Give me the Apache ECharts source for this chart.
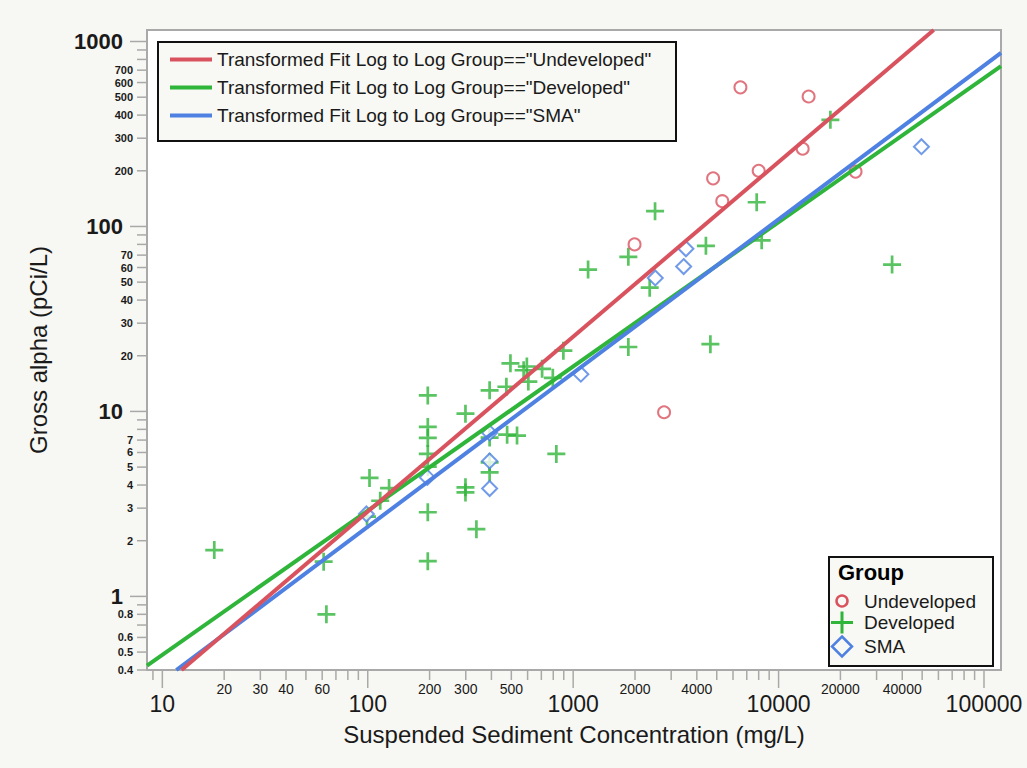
<!DOCTYPE html>
<html><head><meta charset="utf-8">
<script src="https://cdn.jsdelivr.net/npm/echarts@6/dist/echarts.min.js"></script>
<style>html,body{margin:0;padding:0;background:#fff;}#c{width:1027px;height:768px;}</style>
</head><body><div id="c"></div>
<script>
// ---------------- data ----------------
const undevelopedSSC   = [6520, 14000, 13100, 8000, 4800, 5320, 1990, 23700, 2770];
const undevelopedAlpha = [565, 504, 263, 200, 182, 137, 80, 198, 9.9];

const developedSSC   = [17.9, 61, 62.9, 99.2, 102, 115, 127, 196, 196, 196, 196, 196, 196, 196,
  299, 299, 299, 338, 392, 392, 392, 392, 473, 477, 533, 495, 595, 574, 605, 706, 796, 896, 828,
  1182, 1856, 2358, 1856, 2504, 4428, 4656, 7825, 8274, 17870, 35690];
const developedAlpha = [1.78, 1.54, 0.80, 2.70, 4.37, 3.29, 3.85, 12.2, 8.25, 7.19, 5.89, 5.03, 2.85, 1.55,
  9.73, 3.89, 3.65, 2.31, 13.0, 7.22, 5.31, 4.68, 13.6, 7.49, 7.40, 18.2, 17.5, 16.7, 14.5, 17.0, 15.2, 21.3, 5.89,
  58.5, 68.5, 46.7, 22.3, 120.9, 78.6, 23.1, 135.2, 84.2, 377, 62.2];

const smaSSC   = [49600, 3540, 3450, 2510, 1090, 392, 392, 392, 195, 98.5];
const smaAlpha = [270, 75.7, 60.7, 52.7, 15.9, 7.66, 5.4, 3.83, 4.4, 2.79];

// fitted lines (end points)
const fitUndevelopedSSC   = [12.4, 56900];
const fitUndevelopedAlpha = [0.4, 1154];
const fitDevelopedSSC     = [8.42, 121000];
const fitDevelopedAlpha   = [0.422, 737];
const fitSmaSSC           = [11.7, 121000];
const fitSmaAlpha         = [0.4, 869];

const fitNames = ['Transformed Fit Log to Log Group=="Undeveloped"',
                  'Transformed Fit Log to Log Group=="Developed"',
                  'Transformed Fit Log to Log Group=="SMA"'];
const groupNames = ['Undeveloped', 'Developed', 'SMA'];

// axes
const xRange = [8.42, 121000];
const yRange = [0.4, 1154];
const xMajorTicks = [10, 100, 1000, 10000, 100000];
const xMinorTicks = [9, 20, 30, 40, 50, 60, 70, 80, 90, 200, 300, 400, 500, 600, 700, 800, 900,
  2000, 3000, 4000, 5000, 6000, 7000, 8000, 9000, 20000, 30000, 40000, 50000, 60000, 70000, 80000, 90000];
const xMinorLabels = [20, 30, 40, 60, 200, 300, 500, 2000, 4000, 20000, 40000];
const yMajorTicks = [1, 10, 100, 1000];
const yMinorTicks = [0.4, 0.5, 0.6, 0.7, 0.8, 0.9, 2, 3, 4, 5, 6, 7, 8, 9, 20, 30, 40, 50, 60, 70, 80, 90,
  200, 300, 400, 500, 600, 700, 800, 900];
const yMinorLabels = [0.4, 0.5, 0.6, 0.8, 2, 3, 4, 5, 6, 7, 20, 30, 40, 50, 60, 70, 200, 300, 400, 500, 600, 700];

const xTitle = 'Suspended Sediment Concentration (mg/L)';
const yTitle = 'Gross alpha (pCi/L)';

// ---------------- styles ----------------
const RED = '#d9535f', GREEN = '#2fb53a', BLUE = '#4e81e2';
const FRAME = '#a9a9a9', TXT = '#1a1a1a';
const FONT = '"Liberation Sans", Arial, Helvetica, sans-serif';
const CROSS = 'path://M8.5,0H11.5V8.5H20V11.5H11.5V20H8.5V11.5H0V8.5H8.5Z';

const zip = (a, b) => a.map((v, i) => [v, b[i]]);

const xTickData = xMajorTicks.concat(xMinorTicks).map(v => [v, yRange[0]]);
const yTickData = yMajorTicks.concat(yMinorTicks).map(v => [xRange[0], v]);

function xTickRender(params, api) {
  const v = api.value(0);
  const p = api.coord([v, yRange[0]]);
  const major = xMajorTicks.indexOf(v) >= 0;
  const ch = [{type: 'line', shape: {x1: p[0], y1: p[1] + 1, x2: p[0], y2: p[1] + (major ? 18 : 10)},
               style: {stroke: FRAME, lineWidth: 1.5}}];
  if (major) {
    ch.push({type: 'text', x: p[0], y: p[1] + 34,
      style: {text: String(v), align: 'center', verticalAlign: 'middle', fill: TXT, font: '23px ' + FONT}});
  } else if (xMinorLabels.indexOf(v) >= 0) {
    ch.push({type: 'text', x: p[0], y: p[1] + 19,
      style: {text: String(v), align: 'center', verticalAlign: 'middle', fill: TXT, font: '14px ' + FONT}});
  }
  return {type: 'group', children: ch};
}
function yTickRender(params, api) {
  const v = api.value(1);
  const p = api.coord([xRange[0], v]);
  const major = yMajorTicks.indexOf(v) >= 0;
  const ch = [{type: 'line', shape: {x1: p[0] - (major ? 17 : 10), y1: p[1], x2: p[0] - 1, y2: p[1]},
               style: {stroke: FRAME, lineWidth: 1.5}}];
  if (major) {
    ch.push({type: 'text', x: p[0] - 24, y: p[1],
      style: {text: String(v), align: 'right', verticalAlign: 'middle', fill: TXT, font: 'bold 22px ' + FONT}});
  } else if (yMinorLabels.indexOf(v) >= 0) {
    ch.push({type: 'text', x: p[0] - 14, y: p[1],
      style: {text: String(v), align: 'right', verticalAlign: 'middle', fill: TXT, font: 'bold 11px ' + FONT}});
  }
  return {type: 'group', children: ch};
}

const chart = echarts.init(document.getElementById('c'), null, {renderer: 'svg'});
chart.setOption({
  animation: false,
  backgroundColor: '#f7f7f3',
  textStyle: {fontFamily: FONT},
  grid: {left: 147, right: 26, top: 30, bottom: 98, show: true, backgroundColor: '#ffffff',
         borderColor: FRAME, borderWidth: 2},
  xAxis: {type: 'log', logBase: 10, min: xRange[0], max: xRange[1],
    name: xTitle, nameLocation: 'middle', nameGap: 52,
    nameTextStyle: {fontSize: 24, color: TXT, fontFamily: FONT},
    axisLine: {show: false}, axisTick: {show: false}, axisLabel: {show: false}, splitLine: {show: false}},
  yAxis: {type: 'log', logBase: 10, min: yRange[0], max: yRange[1],
    name: yTitle, nameLocation: 'middle', nameGap: 97,
    nameTextStyle: {fontSize: 24, color: TXT, fontFamily: FONT},
    axisLine: {show: false}, axisTick: {show: false}, axisLabel: {show: false}, splitLine: {show: false}},
  legend: [{
    data: fitNames, orient: 'vertical', left: 170, top: 50, padding: 0, itemGap: 9,
    itemWidth: 42, itemHeight: 4, icon: 'rect', selectedMode: false,
    textStyle: {fontSize: 19, color: TXT, fontFamily: FONT}
  }],
  graphic: [
    {type: 'rect', left: 157, top: 41, z: 3, shape: {width: 518, height: 99},
     style: {fill: '#f8f8f4', stroke: '#111', lineWidth: 2}},
    {type: 'rect', left: 828, top: 556, z: 3, shape: {width: 164, height: 109},
     style: {fill: '#f8f8f4', stroke: '#111', lineWidth: 2}},
    {type: 'text', left: 838, top: 561, z: 4,
     style: {text: 'Group', fill: '#000', font: 'bold 22px ' + FONT}},
    {type: 'circle', z: 4, shape: {cx: 842, cy: 601, r: 5.5}, style: {fill: 'none', stroke: RED, lineWidth: 2.5}},
    {type: 'polygon', z: 4, shape: {points: [[831, 621], [853, 621], [853, 624], [831, 624]]}, style: {fill: GREEN}},
    {type: 'polygon', z: 4, shape: {points: [[840.5, 611.5], [843.5, 611.5], [843.5, 633.5], [840.5, 633.5]]}, style: {fill: GREEN}},
    {type: 'polygon', z: 4, shape: {points: [[842, 636.5], [852, 646.5], [842, 656.5], [832, 646.5]]},
     style: {fill: 'none', stroke: BLUE, lineWidth: 2.5}},
    {type: 'text', left: 864, top: 591.5, z: 4, style: {text: groupNames[0], fill: TXT, font: '19px ' + FONT}},
    {type: 'text', left: 864, top: 613, z: 4, style: {text: groupNames[1], fill: TXT, font: '19px ' + FONT}},
    {type: 'text', left: 864, top: 637, z: 4, style: {text: groupNames[2], fill: TXT, font: '19px ' + FONT}}
  ],
  series: [
    {type: 'custom', name: 'xticks', silent: true, renderItem: xTickRender, data: xTickData, z: 1},
    {type: 'custom', name: 'yticks', silent: true, renderItem: yTickRender, data: yTickData, z: 1},
    {type: 'scatter', name: groupNames[1], data: zip(developedSSC, developedAlpha),
     symbol: CROSS, symbolSize: 18, itemStyle: {color: GREEN}, z: 2},
    {type: 'scatter', name: groupNames[2], data: zip(smaSSC, smaAlpha),
     symbol: 'emptyDiamond', symbolSize: 15, itemStyle: {color: BLUE, borderColor: BLUE, borderWidth: 2}, z: 2},
    {type: 'scatter', name: groupNames[0], data: zip(undevelopedSSC, undevelopedAlpha),
     symbol: 'emptyCircle', symbolSize: 12, itemStyle: {color: RED, borderColor: RED, borderWidth: 2}, z: 2},
    {type: 'line', name: fitNames[1], data: zip(fitDevelopedSSC, fitDevelopedAlpha), symbol: 'none',
     lineStyle: {width: 4, color: GREEN}, itemStyle: {color: GREEN}, z: 3},
    {type: 'line', name: fitNames[2], data: zip(fitSmaSSC, fitSmaAlpha), symbol: 'none',
     lineStyle: {width: 4, color: BLUE}, itemStyle: {color: BLUE}, z: 3},
    {type: 'line', name: fitNames[0], data: zip(fitUndevelopedSSC, fitUndevelopedAlpha), symbol: 'none',
     lineStyle: {width: 4, color: RED}, itemStyle: {color: RED}, z: 3}
  ]
});
</script></body></html>
